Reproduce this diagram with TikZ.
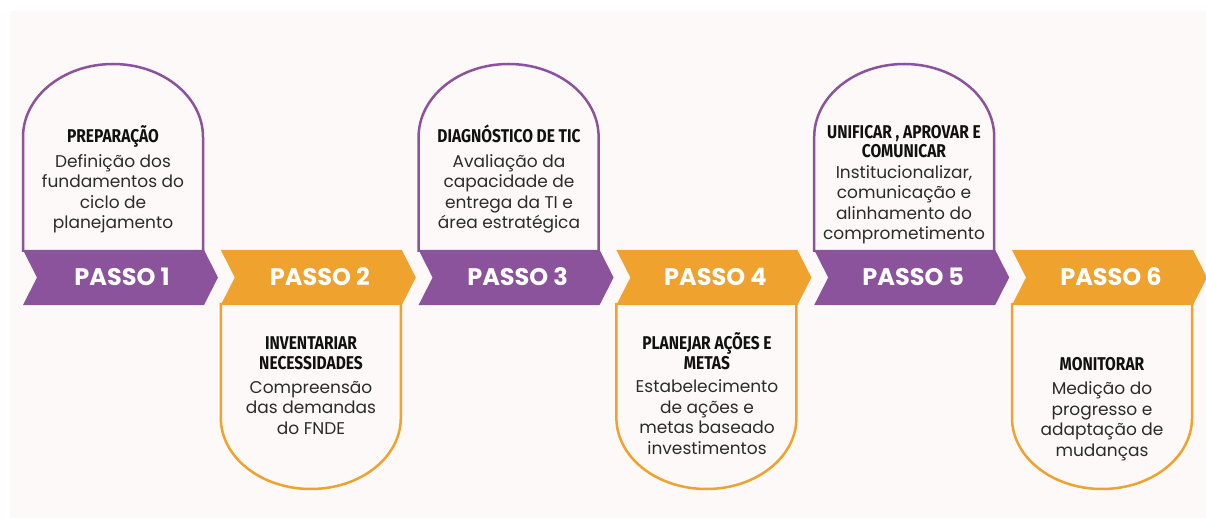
\documentclass[tikz,border=0pt]{standalone}
\usepackage{fontspec}
\setmainfont{Poppins}
\newfontfamily\headfont[FakeStretch=0.84]{Fira Sans}
\definecolor{pur}{HTML}{8B539C}
\definecolor{ora}{HTML}{F0A22E}
\definecolor{bgc}{HTML}{FDF9F8}
\definecolor{headc}{HTML}{111111}
\definecolor{bodyc}{HTML}{2B2B2B}
\tikzset{
  boxline/.style={line width=2.5pt, fill=bgc},
  passo/.style={text=white, font=\fontsize{24}{24}\selectfont\bfseries, anchor=base, inner sep=0pt},
  headtxt/.style={text=headc, font=\headfont\bfseries\fontsize{18.5}{19.5}\selectfont, align=center, anchor=base, inner sep=0pt},
  bodytxt/.style={text=bodyc, font=\fontsize{17}{20.5}\selectfont, align=center, anchor=base, inner sep=0pt}
}
\begin{document}
\begin{tikzpicture}[x=1pt,y=-1pt]
\useasboundingbox (0,0) rectangle (1206,518);
\fill[white] (0,0) rectangle (1206,518);
\fill[bgc] (10,11) rectangle (1206,518);
% top arch boxes
\foreach \i in {1,3,5}{
  \pgfmathsetmacro\L{23+197.8*(\i-1)}
  \draw[boxline, draw=pur] (\L,252) -- (\L,137) .. controls (\L,96.7) and ({\L+40.3},64) .. ({\L+90},64) .. controls ({\L+139.7},64) and ({\L+180},96.7) .. ({\L+180},137) -- ({\L+180},252);
}
% bottom arch boxes
\foreach \i in {2,4,6}{
  \pgfmathsetmacro\L{23+197.8*(\i-1)}
  \draw[boxline, draw=ora] (\L,303) -- (\L,418) .. controls (\L,457.2) and ({\L+40.3},489) .. ({\L+90},489) .. controls ({\L+139.7},489) and ({\L+180},457.2) .. ({\L+180},418) -- ({\L+180},303);
}
% chevrons
\foreach \i/\col in {1/pur,2/ora,3/pur,4/ora,5/pur,6/ora}{
  \pgfmathsetmacro\L{23+197.8*(\i-1)}
  \fill[\col] (\L,250) -- ({\L+181},250) -- ({\L+195},277.5) -- ({\L+181},305) -- (\L,305) -- ({\L+14},277.5) -- cycle;
  \node[passo] (p\i) at ({\L+99},285.5) {PASSO \i};
}
% texts (base anchor = baseline of the last line)
\node[headtxt] (h1) at (113,143) {PREPARAÇÃO};
\node[bodytxt] (b1) at (113,229) {Definição dos\\fundamentos do\\ciclo de\\planejamento};
\node[headtxt] (h2) at (311,369) {INVENTARIAR\\NECESSIDADES};
\node[bodytxt] (b2) at (311,434) {Compreensão\\das demandas\\do FNDE};
\node[headtxt] (h3) at (509,143) {DIAGNÓSTICO DE TIC};
\node[bodytxt] (b3) at (509,229) {Avaliação da\\capacidade de\\entrega da TI e\\área estratégica};
\node[headtxt] (h4) at (707,369) {PLANEJAR AÇÕES E\\METAS};
\node[bodytxt] (b4) at (707,454) {Estabelecimento\\de ações e\\metas baseado\\investimentos};
\node[headtxt] (h5) at (904,158) {UNIFICAR , APROVAR E\\COMUNICAR};
\node[bodytxt] (b5) at (904,240) {Institucionalizar,\\comunicação e\\alinhamento do\\comprometimento};
\node[headtxt] (h6) at (1102,370) {MONITORAR};
\node[bodytxt] (b6) at (1102,456) {Medição do\\progresso e\\adaptação de\\mudanças};
\end{tikzpicture}
\end{document}
